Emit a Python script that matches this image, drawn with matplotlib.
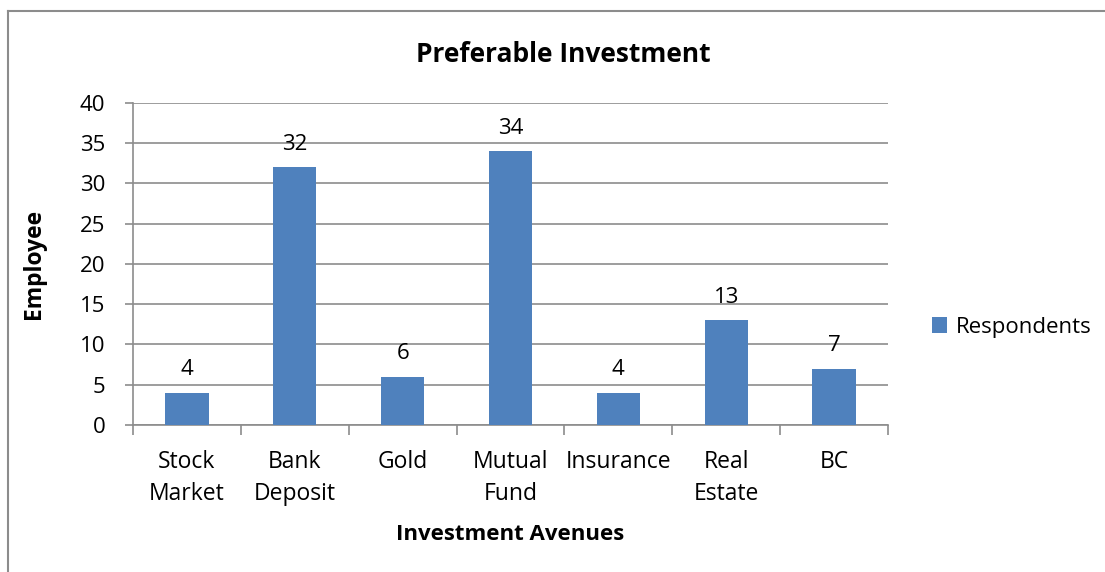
import matplotlib.pyplot as plt
from matplotlib.lines import Line2D

plt.rcParams['font.family'] = ['Open Sans', 'DejaVu Sans']

categories = ['Stock\nMarket', 'Bank\nDeposit', 'Gold', 'Mutual\nFund', 'Insurance', 'Real\nEstate', 'BC']
respondents = [4, 32, 6, 34, 4, 13, 7]
yticks = [0, 5, 10, 15, 20, 25, 30, 35, 40]

bar_color = '#4F81BD'
grid_color = '#8C8C8C'

fig = plt.figure(figsize=(11.05, 5.72), dpi=100)
ax = fig.add_axes([0.1204, 0.257, 0.6832, 0.563])

x = list(range(len(categories)))
bars = ax.bar(x, respondents, width=0.4, color=bar_color, label='Respondents', zorder=3)

# data labels
for xi, v in zip(x, respondents):
    ax.annotate(str(v), (xi, v), xytext=(0, 9), textcoords='offset points',
                ha='center', va='bottom', fontsize=16)

ax.set_xlim(-0.5, len(categories) - 0.5)
ax.set_ylim(0, 40)
ax.set_yticks(yticks)
ax.tick_params(axis='y', labelsize=16, length=6, color=grid_color, width=1.2, pad=14)
ax.yaxis.grid(True, color=grid_color, linewidth=1.2, zorder=0)

# category labels centered, ticks on boundaries
ax.set_xticks(x)
ax.set_xticklabels(categories, fontsize=16.5, linespacing=1.45)
ax.tick_params(axis='x', length=0, pad=18)
ax.set_xticks([i - 0.5 for i in range(len(categories) + 1)], minor=True)
ax.tick_params(axis='x', which='minor', length=7, color=grid_color, width=1.2)

for s in ['top', 'right']:
    ax.spines[s].set_visible(False)
for s in ['left', 'bottom']:
    ax.spines[s].set_color(grid_color)
    ax.spines[s].set_linewidth(1.2)

ax.set_ylabel('Employee', fontsize=16.5, fontweight='bold', labelpad=24)
ax.set_xlabel('Investment Avenues', fontsize=16, fontweight='bold', labelpad=13)
fig.text(0.51, 0.905, 'Preferable Investment', fontsize=19, fontweight='bold', ha='center', va='center')

fig.legend(handles=[bars], loc='center left', bbox_to_anchor=(0.843, 0.428),
           frameon=False, fontsize=16, handlelength=0.7, handleheight=0.7, handletextpad=0.4,
           borderpad=0, borderaxespad=0)

# chart frame (left and top edges visible)
fig.add_artist(Line2D([0.0075, 0.0075], [0, 0.981], color='#8C8C8C', linewidth=1.5))
fig.add_artist(Line2D([0.0075, 1.0], [0.981, 0.981], color='#8C8C8C', linewidth=1.5))

fig.savefig('out.png', dpi=100)
